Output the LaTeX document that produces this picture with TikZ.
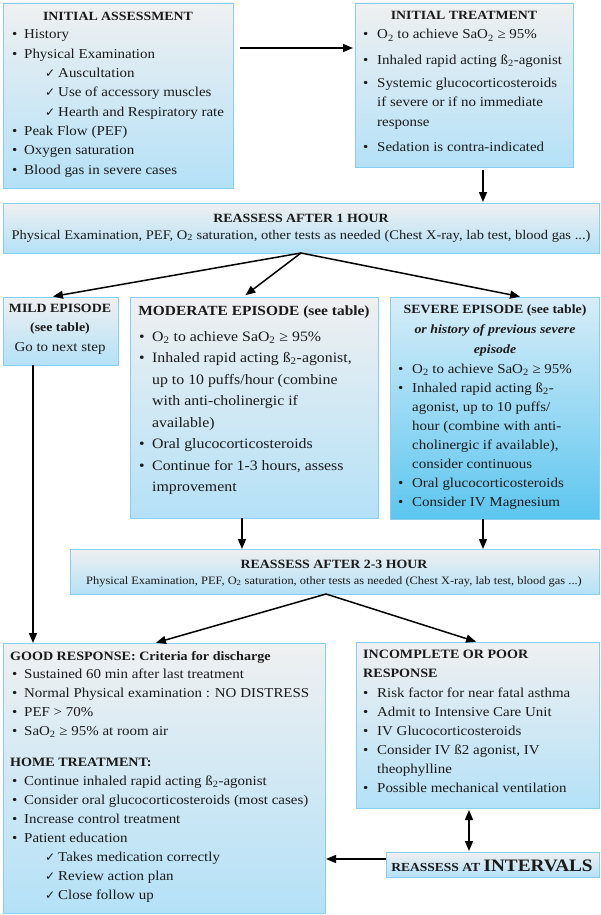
\documentclass[tikz,border=0pt]{standalone}
\usepackage{fontspec}
\setmainfont{Liberation Serif}[FakeStretch=1.1]
\newfontfamily\symf{DejaVu Sans}
\usetikzlibrary{arrows.meta}
\definecolor{bord}{HTML}{86CFEF}
\definecolor{topc}{HTML}{EFF0F1}
\definecolor{botc}{HTML}{B4E1F7}
\definecolor{stopc}{HTML}{D8EDF8}
\definecolor{sbotc}{HTML}{5CC6EF}
\definecolor{ink}{HTML}{1A1A1A}
\newcommand\two{\textsubscript{2}}
\newcommand\chk{{\symf\fontsize{12}{12}\selectfont ✓}}
\newcommand\bu[1][13pt]{\makebox[#1][l]{\textbullet}}
\newcommand\ck{\hspace*{33pt}\makebox[13pt][l]{\chk}}
\begin{document}
\begin{tikzpicture}[x=1pt,y=-1pt,
 box/.style={draw=bord, line width=0.9pt, top color=topc, bottom color=botc, anchor=north west, inner sep=0pt, outer sep=0pt},
 sbox/.style={box, top color=stopc, bottom color=sbotc},
 txt/.style={anchor=base west, inner sep=0pt, align=left, text=ink, font=\fontsize{13.6}{19}\selectfont},
 ttl/.style={anchor=base, inner sep=0pt, align=center, text=ink, font=\bfseries\fontsize{12.6}{19}\selectfont},
 arr/.style={line width=1.5pt, -{Triangle[length=10pt,width=8pt]}},
 darr/.style={line width=1.5pt, {Triangle[length=10pt,width=8pt]}-{Triangle[length=10pt,width=8pt]}},
]
\useasboundingbox (0,0) rectangle (601,915);

% boxes
\node[box, minimum width=230pt, minimum height=185pt] (assess) at (3,3) {};
\node[box, minimum width=218pt, minimum height=164pt] (treat) at (355,3) {};
\node[box, minimum width=596pt, minimum height=50pt] (r1) at (3,203) {};
\node[box, minimum width=115pt, minimum height=68pt] (mild) at (3,297) {};
\node[box, minimum width=248pt, minimum height=221pt] (mod) at (130,297) {};
\node[sbox, minimum width=209pt, minimum height=222pt] (sev) at (390,297) {};
\node[box, minimum width=529pt, minimum height=45pt] (r2) at (70,549) {};
\node[box, minimum width=322pt, minimum height=270pt] (good) at (3,643) {};
\node[box, minimum width=243pt, minimum height=166pt] (inc) at (356,642) {};
\node[box, minimum width=213pt, minimum height=25pt] (intv) at (386,852) {};

% connectors
\coordinate (c1) at (r1.south -| 301,0);
\coordinate (c2) at (r2.south -| 326,0);
\draw[arr, shorten <=7pt, shorten >=2pt] (assess.east |- 0,48) -- (treat.west |- 0,48);
\draw[arr, shorten <=3pt, shorten >=1pt] (treat.south -| 483,0) -- (r1.north -| 483,0);
\draw[arr, shorten >=3pt] (c1) -- (mild.north -| 50,0);
\draw[arr, shorten >=3pt] (c1) -- (mod.north -| 243,0);
\draw[arr, shorten >=2pt] (c1) -- (sev.north -| 522,0);
\draw[arr] (mild.south -| 33,0) -- (good.north -| 33,0);
\draw[arr] (mod.south -| 242,0) -- (r2.north -| 242,0);
\draw[arr] (sev.south -| 483,0) -- (r2.north -| 483,0);
\draw[arr, shorten >=1pt] (c2) -- (good.north -| 155,0);
\draw[arr, shorten >=1pt] (c2) -- (inc.north -| 477,0);
\draw[darr, shorten <=2pt, shorten >=1pt] (inc.south -| 469,0) -- (intv.north -| 469,0);
\draw[arr, shorten >=1pt] (intv.west |- 0,859) -- (good.east |- 0,859);

% texts (multi-line nodes are placed by the baseline of their last line)
\node[ttl] (assessT) at (118,21) {INITIAL ASSESSMENT};
\node[txt, font=\fontsize{13.6}{19.3}\selectfont] (assessB) at (12,174) {\bu[12pt]History\\ \bu[12pt]Physical Examination\\ \ck Auscultation\\ \ck Use of accessory muscles\\ \ck Hearth and Respiratory rate\\ \bu[12pt]Peak Flow (PEF)\\ \bu[12pt]Oxygen saturation\\ \bu[12pt]Blood gas in severe cases};

\node[ttl] (treatT) at (464,20) {INITIAL TREATMENT};
\node[txt, font=\fontsize{13.6}{20}\selectfont] (treatB) at (363,151) {\bu[14pt]O\two{} to achieve SaO\two{} ≥ 95\%\\[5pt] \bu[14pt]Inhaled rapid acting ß\two-agonist\\[3pt] \bu[14pt]Systemic glucocorticosteroids\\ \hspace*{14pt}if severe or if no immediate\\ \hspace*{14pt}response\\[4pt] \bu[14pt]Sedation is contra-indicated};

\node[ttl] (r1T) at (301,222) {REASSESS AFTER 1 HOUR};
\node[txt, anchor=base, font=\fontsize{13.2}{19}\selectfont] (r1B) at (301,239) {Physical Examination, PEF, O\two{} saturation, other tests as needed (Chest X-ray, lab test, blood gas ...)};

\node[ttl] (mildT) at (60,331) {MILD EPISODE\\(see table)};
\node[txt, anchor=base] (mildB) at (60,351) {Go to next step};

\node[ttl, font=\bfseries\fontsize{14}{19}\selectfont] (modT) at (254,315) {MODERATE EPISODE (see table)};
\node[txt, font=\fontsize{14.4}{21.5}\selectfont] (modB) at (139,491.5) {\bu[13pt]O\two{} to achieve SaO\two{} ≥ 95\%\\ \bu[13pt]Inhaled rapid acting ß\two-agonist,\\ \hspace*{13pt}up to 10 puffs/hour (combine\\ \hspace*{13pt}with anti-cholinergic if\\ \hspace*{13pt}available)\\ \bu[13pt]Oral glucocorticosteroids\\ \bu[13pt]Continue for 1-3 hours, assess\\ \hspace*{13pt}improvement};

\node[ttl, font=\bfseries\fontsize{12.6}{20}\selectfont] (sevT) at (495,353) {SEVERE EPISODE (see table)\\ \textit{or history of previous severe}\\ \textit{episode}};
\node[txt] (sevB) at (398,506) {\bu[14pt]O\two{} to achieve SaO\two{} ≥ 95\%\\ \bu[14pt]Inhaled rapid acting ß\two-\\ \hspace*{14pt}agonist, up to 10 puffs/\\ \hspace*{14pt}hour (combine with anti-\\ \hspace*{14pt}cholinergic if available),\\ \hspace*{14pt}consider continuous\\ \bu[14pt]Oral glucocorticosteroids\\ \bu[14pt]Consider IV Magnesium};

\node[ttl] (r2T) at (334,568) {REASSESS AFTER 2-3 HOUR};
\node[txt, anchor=base, font=\fontsize{11.3}{14}\selectfont] (r2B) at (334,584) {Physical Examination, PEF, O\two{} saturation, other tests as needed (Chest X-ray, lab test, blood gas ...)};

\node[txt, font=\bfseries\fontsize{12.8}{19}\selectfont] (goodT) at (10,660) {GOOD RESPONSE: Criteria for discharge};
\node[txt] (goodB) at (12,735) {\bu[12pt]Sustained 60 min after last treatment\\ \bu[12pt]Normal Physical examination : NO DISTRESS\\ \bu[12pt]PEF > 70\%\\ \bu[12pt]SaO\two{} ≥ 95\% at room air};
\node[txt, font=\bfseries\fontsize{12.8}{19}\selectfont] (homeT) at (10,766) {HOME TREATMENT:};
\node[txt] (homeB) at (12,899) {\bu[12pt]Continue inhaled rapid acting ß\two-agonist\\ \bu[12pt]Consider oral glucocorticosteroids (most cases)\\ \bu[12pt]Increase control treatment\\ \bu[12pt]Patient education\\ \ck Takes medication correctly\\ \ck Review action plan\\ \ck Close follow up};

\node[txt, font=\bfseries\fontsize{12.8}{19}\selectfont] (incT) at (363,677) {INCOMPLETE OR POOR\\RESPONSE};
\node[txt] (incB) at (363,792) {\bu[14pt]Risk factor for near fatal asthma\\ \bu[14pt]Admit to Intensive Care Unit\\ \bu[14pt]IV Glucocorticosteroids\\ \bu[14pt]Consider IV ß2 agonist, IV\\ \hspace*{14pt}theophylline\\ \bu[14pt]Possible mechanical ventilation};

\node[anchor=base, inner sep=0pt, text=ink] (intvT) at (492,871) {\bfseries\fontsize{12.3}{12}\selectfont REASSESS AT \fontsize{17.5}{18}\selectfont INTERVALS};
\end{tikzpicture}
\end{document}
